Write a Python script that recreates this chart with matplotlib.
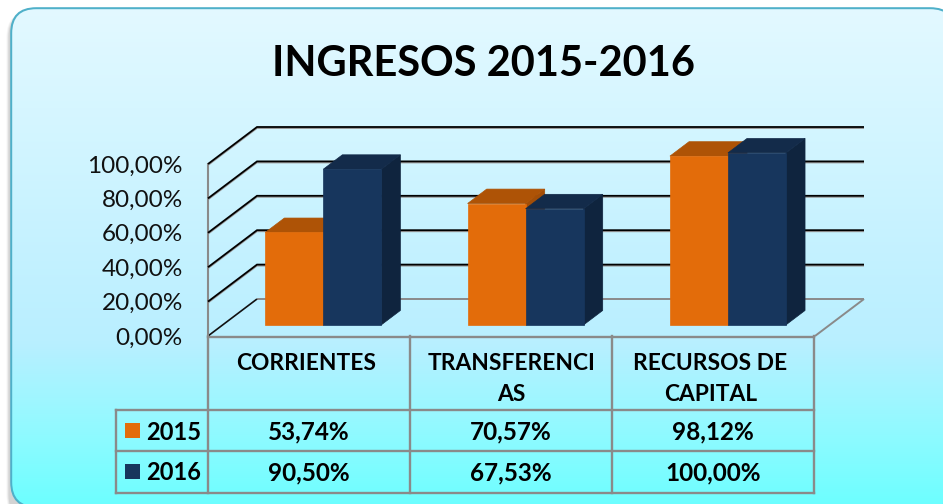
import numpy as np
import matplotlib
matplotlib.use("Agg")
import matplotlib.pyplot as plt
from matplotlib.colors import LinearSegmentedColormap
from matplotlib.patches import FancyBboxPatch, Polygon, Rectangle

title = "INGRESOS 2015-2016"
categories = ["CORRIENTES", "TRANSFERENCI\nAS", "RECURSOS DE\nCAPITAL"]
years = ["2015", "2016"]
values_2015 = [53.74, 70.57, 98.12]
values_2016 = [90.50, 67.53, 100.00]
y_ticks = [0, 20, 40, 60, 80, 100]

W, H = 943, 504
plt.rcParams["font.family"] = ["Lato", "DejaVu Sans"]
fig = plt.figure(figsize=(W / 100, H / 100), dpi=100, facecolor="white")


def fmt(v):
    return f"{v:.2f}%".replace(".", ",")


def round_box(x, y, w, h, r, **kw):
    return FancyBboxPatch((x, y), w, h, boxstyle=f"round,pad=0,rounding_size={r}", lw=0, **kw)


# page layer, in pixels: frame, gradient, table lines
bg = fig.add_axes([0, 0, 1, 1])
bg.set_xlim(0, W)
bg.set_ylim(H, 0)
bg.axis("off")

# soft shadow on the left, then border, then gradient clipped to the inside
for off, a in [(4, 0.04), (3, 0.06), (2, 0.08)]:
    bg.add_patch(round_box(10.5 - off, 11, 960, 510, 26, fc="black", alpha=a, zorder=0.5))
bg.add_patch(round_box(10.2, 7.2, 946, 501, 26, fc="#4FB0C9", zorder=0.8))
inner = round_box(12.2, 9.2, 942, 497, 24, fc="none", zorder=0.9)
bg.add_patch(inner)
stops = [(0.0, "#E3F9FF"), (0.2, "#D6F6FF"), (0.67, "#B9EFFF"), (0.83, "#95F9FF"), (1.0, "#6CFFFF")]
cmap = LinearSegmentedColormap.from_list("bg", stops)
grad = bg.imshow(np.linspace(0, 1, 256).reshape(-1, 1), cmap=cmap, aspect="auto",
                 extent=[0, W, 507, 8], zorder=1)
grad.set_clip_path(inner)
bg.set_xlim(0, W)
bg.set_ylim(H, 0)

GRAY = "#8A8A8A"
table_x = [207.5, 409.5, 612, 814]
for x in table_x:
    bg.plot([x, x], [336, 492.5], color=GRAY, lw=1.7, zorder=4, solid_capstyle="projecting")
bg.plot([115.5, 115.5], [410, 492.5], color=GRAY, lw=1.7, zorder=4, solid_capstyle="projecting")
bg.plot([207.5, 814], [336.5, 336.5], color=GRAY, lw=1.7, zorder=4)
for y in [410, 451, 492.5]:
    bg.plot([115.5, 814], [y, y], color=GRAY, lw=1.7, zorder=4, solid_capstyle="projecting")

bg.text(484, 60, title, fontsize=30, fontweight="bold", ha="center", va="center_baseline", zorder=5)

# chart axes: x is category slots, y is the percent scale on the front plane
ax = fig.add_axes([208 / W, 1 - 336 / H, (815 - 208) / W, (336 - 164) / H])
ax.set_xlim(0, 3)
ax.set_ylim(0, 100)
ax.patch.set_visible(False)
for s in ax.spines.values():
    s.set_visible(False)

# depth of the 3D box in data units
depth_x = 49 / ((815 - 208) / 3)
depth_y = 37 / (172 / 100)


def proj(x, v, d):
    return x + d * depth_x, v + d * depth_y


def face(pts, color, z):
    ax.add_patch(Polygon(pts, closed=True, fc=color, ec=color, lw=0.5, zorder=z, clip_on=False))


def wall_line(pts, color, lw, z, shift=0.0):
    xs, ys = zip(*pts)
    ax.plot(xs, np.array(ys) - shift, color=color, lw=lw, zorder=z, clip_on=False,
            solid_capstyle="butt", solid_joinstyle="miter")


for t in y_ticks:
    pts = [proj(0, t, 0), proj(0, t, 1), proj(3, t, 1)]
    if t == 0:
        wall_line(pts[1:], GRAY, 1.4, 2)
        wall_line([proj(3, 0, 0), proj(3, 0, 1)], GRAY, 1.4, 2)
        wall_line(pts[:2], "#111111", 1.2, 2)
    else:
        wall_line(pts, "#999999", 1.1, 2, shift=0.7)
        wall_line(pts, "black", 1.3, 2.1)
ax.plot([0, 0], [0, 100], color=GRAY, lw=1.5, zorder=2, clip_on=False)

bar_w = 58 / ((815 - 208) / 3)
d0, d1 = 0.30, 0.69
series = [
    (values_2015, -1, "#E36C0A", "#AE5306", "#A34E07"),
    (values_2016, 0, "#17365D", "#132B4A", "#0F243E"),
]
for i in range(len(categories)):
    for vals, side, c_front, c_top, c_side in series:
        v = vals[i]
        left = i + 0.497 + side * bar_w
        right = left + bar_w
        z = 3 + i + (side + 1) * 0.1
        face([proj(right, 0, d0), proj(right, 0, d1), proj(right, v, d1), proj(right, v, d0)], c_side, z)
        face([proj(left, v, d0), proj(right, v, d0), proj(right, v, d1), proj(left, v, d1)], c_top, z)
        front_l, front_b = proj(left, 0, d0)
        ax.add_patch(Rectangle((front_l, front_b), bar_w, v, fc=c_front, ec=c_front, lw=0.5,
                               zorder=z + 0.01, clip_on=False))

ax.set_yticks(y_ticks)
ax.set_yticklabels([fmt(t) for t in y_ticks], fontsize=17.5, color="#111111", va="center_baseline")
# the first and last header cells sit a little left of the cell middle
ax.set_xticks([0.485, 1.5, 2.483])
ax.set_xticklabels(categories, fontsize=16.4, fontweight="bold", linespacing=1.54, va="top")
ax.tick_params(axis="y", length=0, pad=18)
ax.tick_params(axis="x", length=0, pad=12.5)

# data rows of the table
row_y = [430, 471]
rows = [values_2015, values_2016]
key_colors = ["#E36C0A", "#17365D"]
for r, y in enumerate(row_y):
    bg.add_patch(Rectangle((125, y - 7.5), 15, 15, fc=key_colors[r], ec="none", zorder=5))
    bg.text(146, y, years[r], fontsize=17, fontweight="bold", ha="left", va="center_baseline", zorder=5)
    for i in range(len(categories)):
        bg.text((table_x[i] + table_x[i + 1]) / 2, y, fmt(rows[r][i]), fontsize=17.5,
                fontweight="bold", ha="center", va="center_baseline", zorder=5)

fig.savefig("out.png", dpi=100, facecolor="white")
